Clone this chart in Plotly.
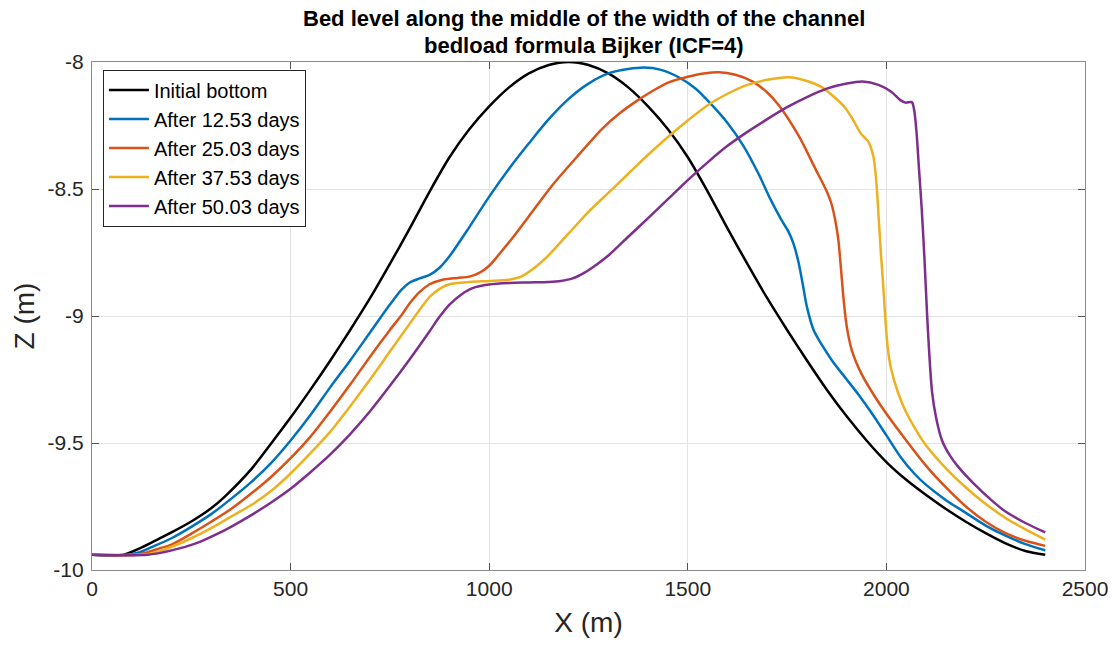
import plotly.graph_objects as go

# ---- data ----
series_names = ["Initial bottom", "After 12.53 days", "After 25.03 days",
                "After 37.53 days", "After 50.03 days"]

x_initial = [0, 80, 120, 167, 200, 251, 300, 335, 400, 452, 500, 550, 600, 650, 700, 750,
             800, 850, 900, 950, 1000, 1050, 1100, 1150, 1200, 1250, 1300, 1350, 1400, 1450,
             1500, 1550, 1600, 1650, 1700, 1750, 1800, 1850, 1900, 1950, 2000, 2050, 2100,
             2150, 2200, 2250, 2300, 2350, 2400]
z_initial = [-9.94, -9.94, -9.915, -9.878, -9.852, -9.808, -9.757, -9.71, -9.605, -9.50, -9.40,
             -9.29, -9.175, -9.055, -8.93, -8.795, -8.655, -8.51, -8.375, -8.265, -8.175,
             -8.10, -8.045, -8.012, -8.00, -8.012, -8.045, -8.10, -8.175, -8.265, -8.375,
             -8.51, -8.655, -8.795, -8.93, -9.055, -9.175, -9.29, -9.395, -9.49, -9.575,
             -9.645, -9.705, -9.76, -9.81, -9.855, -9.895, -9.925, -9.94]

x_day12 = [0, 90, 120, 150, 200, 250, 300, 350, 400, 450, 500, 550, 600, 650, 700, 750,
           780, 800, 825, 850, 875, 900, 950, 1000, 1050, 1100, 1150, 1200, 1250, 1300, 1350,
           1390, 1430, 1477, 1520, 1561, 1600, 1640, 1678, 1708, 1735, 1754, 1766, 1779,
           1790, 1800, 1817, 1838, 1863, 1900, 1930, 1965, 2000, 2038, 2070, 2100, 2150,
           2200, 2250, 2300, 2350, 2400]
z_day12 = [-9.94, -9.94, -9.93, -9.91, -9.875, -9.83, -9.78, -9.72, -9.655, -9.58, -9.49,
           -9.39, -9.28, -9.175, -9.065, -8.955, -8.895, -8.868, -8.852, -8.838, -8.81,
           -8.765, -8.65, -8.53, -8.42, -8.32, -8.225, -8.145, -8.085, -8.045, -8.028,
           -8.022, -8.03, -8.06, -8.105, -8.17, -8.24, -8.33, -8.44, -8.54, -8.62, -8.67,
           -8.715, -8.79, -8.88, -8.965, -9.056, -9.115, -9.175, -9.25, -9.31, -9.387,
           -9.47, -9.56, -9.62, -9.665, -9.725, -9.775, -9.825, -9.865, -9.898, -9.922]

x_day25 = [0, 110, 140, 170, 200, 250, 300, 350, 400, 450, 500, 550, 600, 650, 700, 750,
           780, 800, 825, 850, 880, 920, 950, 975, 1000, 1025, 1060, 1100, 1159, 1220, 1285,
           1330, 1368, 1410, 1452, 1500, 1540, 1578, 1620, 1661, 1700, 1729, 1779, 1821,
           1850, 1862, 1872, 1879, 1886, 1892, 1900, 1913, 1938, 1970, 2000, 2050, 2100,
           2150, 2200, 2250, 2300, 2350, 2400]
z_day25 = [-9.94, -9.94, -9.93, -9.915, -9.90, -9.857, -9.81, -9.76, -9.70, -9.635, -9.56,
           -9.475, -9.375, -9.27, -9.16, -9.055, -8.995, -8.95, -8.905, -8.875, -8.858,
           -8.85, -8.845, -8.83, -8.802, -8.757, -8.69, -8.607, -8.485, -8.375, -8.262,
           -8.20, -8.157, -8.115, -8.08, -8.058, -8.045, -8.04, -8.05, -8.075, -8.12,
           -8.17, -8.29, -8.42, -8.51, -8.56, -8.63, -8.70, -8.82, -8.93, -9.04, -9.135,
           -9.23, -9.315, -9.385, -9.49, -9.59, -9.675, -9.75, -9.81, -9.855, -9.885, -9.905]

x_day37 = [0, 120, 150, 190, 250, 300, 350, 400, 450, 500, 550, 600, 650, 700, 750, 800,
           830, 850, 875, 900, 950, 1000, 1050, 1080, 1110, 1150, 1200, 1250, 1300, 1350,
           1400, 1450, 1500, 1550, 1600, 1650, 1700, 1754, 1800, 1838, 1870, 1896, 1915,
           1935, 1955, 1967, 1974, 1980, 1986, 1992, 1997, 2003, 2012, 2030, 2050, 2080,
           2100, 2150, 2200, 2250, 2300, 2350, 2400]
z_day37 = [-9.94, -9.94, -9.935, -9.915, -9.875, -9.835, -9.79, -9.745, -9.69, -9.62, -9.54,
           -9.455, -9.355, -9.25, -9.14, -9.03, -8.965, -8.925, -8.893, -8.875, -8.866,
           -8.862, -8.857, -8.845, -8.815, -8.76, -8.675, -8.59, -8.515, -8.44, -8.365,
           -8.295, -8.23, -8.17, -8.125, -8.09, -8.07, -8.06, -8.075, -8.10, -8.14, -8.18,
           -8.225, -8.28, -8.315, -8.37, -8.46, -8.60, -8.75, -8.88, -9.00, -9.12, -9.21,
           -9.305, -9.38, -9.463, -9.51, -9.60, -9.675, -9.74, -9.795, -9.84, -9.88]

x_day50 = [0, 140, 180, 220, 270, 318, 350, 400, 450, 500, 550, 600, 650, 700, 750, 800,
           850, 874, 900, 930, 958, 1000, 1050, 1100, 1150, 1180, 1210, 1240, 1270, 1300,
           1350, 1400, 1450, 1500, 1550, 1600, 1650, 1700, 1750, 1800, 1850, 1900, 1940,
           1980, 2013, 2035, 2048, 2064, 2070, 2076, 2082, 2089, 2096, 2102, 2108, 2115,
           2125, 2140, 2160, 2181, 2220, 2265, 2300, 2350, 2400]
z_day50 = [-9.94, -9.94, -9.93, -9.915, -9.89, -9.856, -9.83, -9.785, -9.735, -9.68, -9.615,
           -9.545, -9.465, -9.375, -9.275, -9.17, -9.06, -9.005, -8.955, -8.915, -8.89,
           -8.876, -8.87, -8.868, -8.866, -8.862, -8.852, -8.829, -8.798, -8.762, -8.688,
           -8.615, -8.54, -8.465, -8.395, -8.33, -8.275, -8.225, -8.178, -8.138, -8.105,
           -8.085, -8.077, -8.09, -8.118, -8.15, -8.16, -8.158, -8.19, -8.28, -8.42, -8.58,
           -8.78, -8.98, -9.15, -9.30, -9.40, -9.49, -9.55, -9.594, -9.66, -9.726, -9.77,
           -9.815, -9.852]

x_ticks = [0, 500, 1000, 1500, 2000, 2500]
y_ticks = [-10, -9.5, -9, -8.5, -8]
y_tick_labels = ["-10", "-9.5", "-9", "-8.5", "-8"]

title_lines = ["Bed level along the middle of the width of the channel",
               "bedload formula Bijker (ICF=4)"]

colors = ["#000000", "#0072BD", "#D95319", "#EDB120", "#7E2F8E"]

xs = [x_initial, x_day12, x_day25, x_day37, x_day50]
zs = [z_initial, z_day12, z_day25, z_day37, z_day50]

fig = go.Figure()
for name, x, z, c in zip(series_names, xs, zs, colors):
    fig.add_trace(go.Scatter(x=x, y=z, mode="lines", name=name,
                             line=dict(color=c, width=2.5, shape="spline", smoothing=0.8)))

font_family = "Liberation Sans, Arial, sans-serif"
axis_common = dict(
    showline=True, linecolor="#8a8a8a", linewidth=1.2, mirror="ticks",
    ticks="inside", ticklen=7, tickcolor="#555555", tickwidth=1,
    showgrid=True, gridcolor="#e3e3e3", gridwidth=1, zeroline=False,
    tickfont=dict(family=font_family, size=21, color="#262626"),
)

# two-line bold title placed as annotations
fig.add_annotation(text="<b>" + title_lines[0] + "</b>", xref="paper", yref="paper",
                   x=0.495, y=1.085, xanchor="center", yanchor="middle", showarrow=False,
                   font=dict(family=font_family, size=22, color="#000000"))
fig.add_annotation(text="<b>" + title_lines[1] + "</b>", xref="paper", yref="paper",
                   x=0.495, y=1.032, xanchor="center", yanchor="middle", showarrow=False,
                   font=dict(family=font_family, size=22, color="#000000"))

fig.update_layout(
    width=1120, height=646,
    margin=dict(l=92, r=30, t=62, b=76),
    paper_bgcolor="white", plot_bgcolor="white",
    xaxis=dict(range=[0, 2500], tickvals=x_ticks,
               title=dict(text="X (m)", standoff=13,
                          font=dict(family=font_family, size=28, color="#262626")),
               **axis_common),
    yaxis=dict(range=[-10, -8], tickvals=y_ticks, ticktext=y_tick_labels,
               ticklabelstandoff=3,
               title=dict(text="Z (m)", standoff=4,
                          font=dict(family=font_family, size=28, color="#262626")),
               **axis_common),
    legend=dict(x=0.011, y=0.985, xanchor="left", yanchor="top",
                bgcolor="white", bordercolor="#262626", borderwidth=1,
                font=dict(family=font_family, size=20, color="#000000"),
                itemwidth=40, tracegroupgap=0),
    showlegend=True,
)

fig.write_html("out.html")
